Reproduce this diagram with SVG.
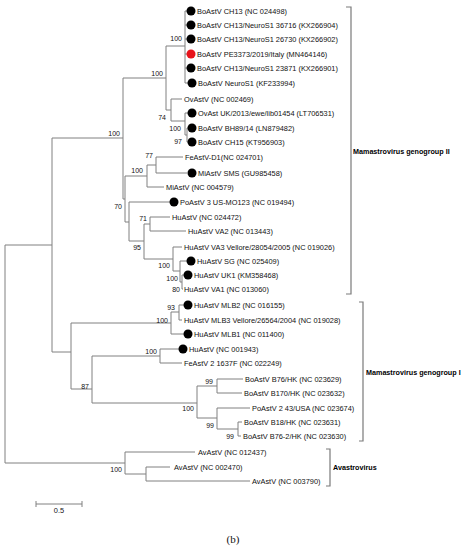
<svg xmlns="http://www.w3.org/2000/svg" width="464" height="550" viewBox="0 0 464 550">
<style>
.br{fill:none;stroke:#808080;stroke-width:1}
.bk{fill:none;stroke:#7a7a7a;stroke-width:1.2}
text{font-family:"Liberation Sans",Arial,sans-serif;fill:#111}
.lf{font-size:7.4px}
.bs{font-size:7px;text-anchor:end}
.cl{font-size:7.2px;font-weight:bold;fill:#000}
.dot{fill:#000}
.red{fill:#e8141b}
</style>
<rect width="464" height="550" fill="#fff"/>
<g id="connectors">
<path class="br" d="M5 245V463M5 245H52M5 463H125M52 138V352M52 138H123M52 352H71
M123 78V199M123 78H166M123 199H125M125 176V222M125 176H147M147 165V187M147 165H156M156 157V173M156 157H183M156 173H187M147 187H164
M125 222H129M129 202V241M129 202H170M129 241H144M144 224V259M144 224H150M150 217V231M150 217H170M150 231H186
M144 259H173M173 247V271M173 247H182M173 271H180M180 261V282M180 261H187M180 282H182M182 275V289M182 275H184M182 289H183
M166 46V110M166 46H185M185 11V83M185 11H187M185 25H187M185 39H187M185 54H187M185 68H187M185 83H188
M166 110H171M171 99V121M171 99H182M171 121H185M185 113V135M185 113H188M185 135H187M187 128V142M187 128H188M187 142H188
M71 323V389M71 323H171M171 312V334M171 312H179M179 305V320M179 305H184M179 320H182M171 334H184
M71 389H92M92 356V403M92 356H160M160 349V363M160 349H179M160 363H182
M92 403H197M197 386V418M197 386H217M217 379V393M217 379H243M217 393H242M197 418H217M217 408V429M217 408H250M217 429H238M238 422V436M238 422H242M238 436H241
M125 452V474M125 452H195M125 474H146M146 467V481M146 467H170M146 481H250"/>
</g>
<g id="leaves">
<g id="n1"><circle class="dot" cx="191" cy="11" r="4.5"/><text class="lf" x="197" y="13.6">BoAstV CH13 (NC 024498)</text></g>
<g id="n2"><circle class="dot" cx="191" cy="25" r="4.5"/><text class="lf" x="197" y="27.6">BoAstV CH13/NeuroS1 36716 (KX266904)</text></g>
<g id="n3"><circle class="dot" cx="191" cy="39" r="4.5"/><text class="lf" x="197" y="41.6">BoAstV CH13/NeuroS1 26730 (KX266902)</text></g>
<g id="n4"><circle class="red" cx="191" cy="54" r="4.5"/><text class="lf" x="197" y="56.6">BoAstV PE3373/2019/Italy (MN464146)</text></g>
<g id="n5"><circle class="dot" cx="191" cy="68" r="4.5"/><text class="lf" x="197" y="70.6">BoAstV CH13/NeuroS1 23871 (KX266901)</text></g>
<g id="n6"><circle class="dot" cx="192" cy="83" r="4.5"/><text class="lf" x="198" y="85.6">BoAstV NeuroS1 (KF233994)</text></g>
<g id="n7"><text class="lf" x="184" y="101.6">OvAstV (NC 002469)</text></g>
<g id="n8"><circle class="dot" cx="192" cy="113" r="4.5"/><text class="lf" x="198" y="115.6">OvAst UK/2013/ewe/lib01454 (LT706531)</text></g>
<g id="n9"><circle class="dot" cx="192" cy="128" r="4.5"/><text class="lf" x="198" y="130.6">BoAstV BH89/14 (LN879482)</text></g>
<g id="n10"><circle class="dot" cx="192" cy="142" r="4.5"/><text class="lf" x="198" y="144.6">BoAstV CH15 (KT956903)</text></g>
<g id="n11"><text class="lf" x="185" y="159.6">FeAstV-D1(NC 024701)</text></g>
<g id="n12"><circle class="dot" cx="192" cy="173" r="4.5"/><text class="lf" x="198" y="175.6">MiAstV SMS (GU985458)</text></g>
<g id="n13"><text class="lf" x="166" y="189.6">MiAstV (NC 004579)</text></g>
<g id="n14"><circle class="dot" cx="174" cy="202" r="4.5"/><text class="lf" x="180" y="204.6">PoAstV 3 US-MO123 (NC 019494)</text></g>
<g id="n15"><text class="lf" x="172" y="219.6">HuAstV (NC 024472)</text></g>
<g id="n16"><text class="lf" x="188" y="233.6">HuAstV VA2 (NC 013443)</text></g>
<g id="n17"><text class="lf" x="184" y="249.6">HuAstV VA3 Vellore/28054/2005 (NC 019026)</text></g>
<g id="n18"><circle class="dot" cx="191" cy="261" r="4.5"/><text class="lf" x="197" y="263.6">HuAstV SG (NC 025409)</text></g>
<g id="n19"><circle class="dot" cx="188" cy="275" r="4.5"/><text class="lf" x="194" y="277.6">HuAstV UK1 (KM358468)</text></g>
<g id="n20"><text class="lf" x="184" y="291.6">HuAstV VA1 (NC 013060)</text></g>
<g id="n21"><circle class="dot" cx="188" cy="305" r="4.5"/><text class="lf" x="194" y="307.6">HuAstV MLB2 (NC 016155)</text></g>
<g id="n22"><text class="lf" x="184" y="322.6">HuAstV MLB3 Vellore/26564/2004 (NC 019028)</text></g>
<g id="n23"><circle class="dot" cx="188" cy="334" r="4.5"/><text class="lf" x="194" y="336.6">HuAstV MLB1 (NC 011400)</text></g>
<g id="n24"><circle class="dot" cx="183" cy="349" r="4.5"/><text class="lf" x="189" y="351.6">HuAstV (NC 001943)</text></g>
<g id="n25"><text class="lf" x="184" y="365.6">FeAstV 2 1637F (NC 022249)</text></g>
<g id="n26"><text class="lf" x="245" y="381.6">BoAstV B76/HK (NC 023629)</text></g>
<g id="n27"><text class="lf" x="244" y="395.6">BoAstV B170/HK (NC 023632)</text></g>
<g id="n28"><text class="lf" x="252" y="410.6">PoAstV 2 43/USA (NC 023674)</text></g>
<g id="n29"><text class="lf" x="244" y="424.6">BoAstV B18/HK (NC 023631)</text></g>
<g id="n30"><text class="lf" x="243" y="438.6">BoAstV B76-2/HK (NC 023630)</text></g>
<g id="n31"><text class="lf" x="198" y="454.6">AvAstV (NC 012437)</text></g>
<g id="n32"><text class="lf" x="174" y="469.6">AvAstV (NC 002470)</text></g>
<g id="n33"><text class="lf" x="252" y="483.6">AvAstV (NC 003790)</text></g>
</g>
<g id="bootstrap">
<text class="bs" x="182" y="40.5">100</text>
<text class="bs" x="163" y="75.5">100</text>
<text class="bs" x="120" y="135.5">100</text>
<text class="bs" x="166" y="119.5">74</text>
<text class="bs" x="181" y="130.5">100</text>
<text class="bs" x="182" y="143.5">97</text>
<text class="bs" x="153" y="157.5">77</text>
<text class="bs" x="143" y="172.5">100</text>
<text class="bs" x="122" y="208.5">70</text>
<text class="bs" x="147" y="220.5">71</text>
<text class="bs" x="141" y="249.5">95</text>
<text class="bs" x="170" y="267.5">100</text>
<text class="bs" x="178" y="280.5">100</text>
<text class="bs" x="180" y="291.5">80</text>
<text class="bs" x="175" y="309.5">93</text>
<text class="bs" x="168" y="322.5">100</text>
<text class="bs" x="157" y="353.5">100</text>
<text class="bs" x="89" y="388.5">87</text>
<text class="bs" x="213" y="383.5">99</text>
<text class="bs" x="194" y="410.5">100</text>
<text class="bs" x="214" y="427.5">99</text>
<text class="bs" x="234" y="438.5">99</text>
<text class="bs" x="122" y="471.5">100</text>
</g>
<g id="clade-II"><path class="bk" d="M346 7H351V294H346"/><text class="cl" x="353" y="154">Mamastrovirus genogroup II</text></g>
<g id="clade-I"><path class="bk" d="M359 302H363V441H359"/><text class="cl" x="366" y="375">Mamastrovirus genogroup I</text></g>
<g id="clade-Av"><path class="bk" d="M326 449H330V486H326"/><text class="cl" x="333" y="470">Avastrovirus</text></g>
<g id="scale"><path class="br" d="M36 504H82M36 501V507M82 501V507"/><text class="lf" x="59" y="513" text-anchor="middle">0.5</text></g>
<text x="233" y="543" text-anchor="middle" style="font-family:'Liberation Serif','Times New Roman',serif;font-size:11px">(b)</text>
</svg>
